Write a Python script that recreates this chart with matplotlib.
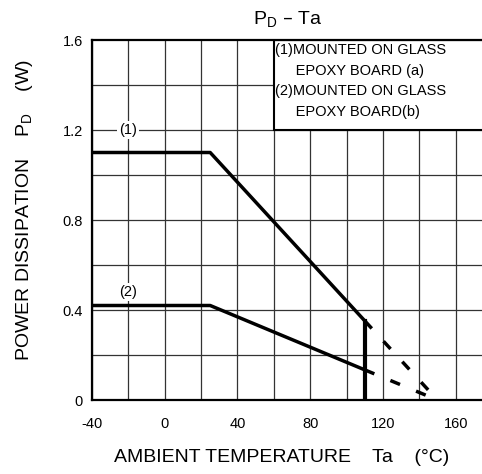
import matplotlib.pyplot as plt
from matplotlib.patches import Rectangle

plt.rcParams['font.family'] = ['Liberation Sans', 'DejaVu Sans']

# derating curves, solid part then dashed part
ta_solid = [-40, 25, 110]
pd1_solid = [1.10, 1.10, 0.352]
pd2_solid = [0.42, 0.42, 0.134]
ta_dash = [110, 150]
pd1_dash = [0.352, 0.0]
pd2_dash = [0.134, 0.0]
cut_ta = 110

x_ticks = [-40, 0, 40, 80, 120, 160]
y_ticks = [0, 0.4, 0.8, 1.2, 1.6]
legend_lines = ["(1)MOUNTED ON GLASS", "     EPOXY BOARD (a)",
                "(2)MOUNTED ON GLASS", "     EPOXY BOARD(b)"]

fig = plt.figure(figsize=(4.82, 4.74), dpi=100)
# axes run off the right edge like in the scanned sheet
ax = fig.add_axes([92/482, 1-400/474, 400/482, 360/474])
ax.set_xlim(-40, 180)
ax.set_ylim(0, 1.6)

for x in range(-40, 181, 20):
    ax.axvline(x, color='#333333', lw=0.9, zorder=1)
for y in [0.2, 0.4, 0.6, 0.8, 1.0, 1.2, 1.4]:
    ax.axhline(y, color='#333333', lw=0.9, zorder=1)

ax.plot(ta_solid, pd1_solid, color='black', lw=2.5, zorder=3)
ax.plot(ta_solid, pd2_solid, color='black', lw=2.5, zorder=3)
ax.plot(ta_dash, pd1_dash, color='black', lw=2.5, ls=(0, (3, 5)), zorder=3)
ax.plot(ta_dash, pd2_dash, color='black', lw=2.5, ls=(0, (3, 5)), zorder=3)
ax.plot([cut_ta, cut_ta], [0, pd1_solid[-1]], color='black', lw=3, zorder=3)

ax.text(-20, 1.2, "(1)", ha='center', va='center', fontsize=10.5, zorder=4,
        bbox=dict(facecolor='white', edgecolor='none', pad=1.5))
ax.text(-20, 0.48, "(2)", ha='center', va='center', fontsize=10.5, zorder=4,
        bbox=dict(facecolor='white', edgecolor='none', pad=1.5))

ax.add_patch(Rectangle((60, 1.2), 130, 0.4, facecolor='white', edgecolor='black',
                       lw=1.5, zorder=5))
for i, s in enumerate(legend_lines):
    ax.text(60.5, 1.555 - i*0.091, s, ha='left', va='center', fontsize=10.5, zorder=6)

ax.set_xticks(x_ticks)
ax.set_xticklabels([str(v) for v in x_ticks])
ax.set_yticks(y_ticks)
ax.set_yticklabels(['0', '0.4', '0.8', '1.2', '1.6'])
ax.tick_params(axis='x', length=0, pad=12, labelsize=10.5)
ax.tick_params(axis='y', length=0, pad=6.5, labelsize=10.5)
for sp in ax.spines.values():
    sp.set_linewidth(1.6)
    sp.set_zorder(7)

fig.text(288/482, 1-20/474, r"P$_\mathregular{D}$ – Ta", ha='center', va='center', fontsize=14)
fig.text(282/482, 1-458/474, "AMBIENT TEMPERATURE    Ta    (°C)", ha='center', va='center',
         fontsize=14)
fig.text(25/482, 1-210/474, r"POWER DISSIPATION    P$_\mathregular{D}$    (W)", ha='center',
         va='center', rotation=90, fontsize=14)

fig.savefig("out.png", dpi=100)
